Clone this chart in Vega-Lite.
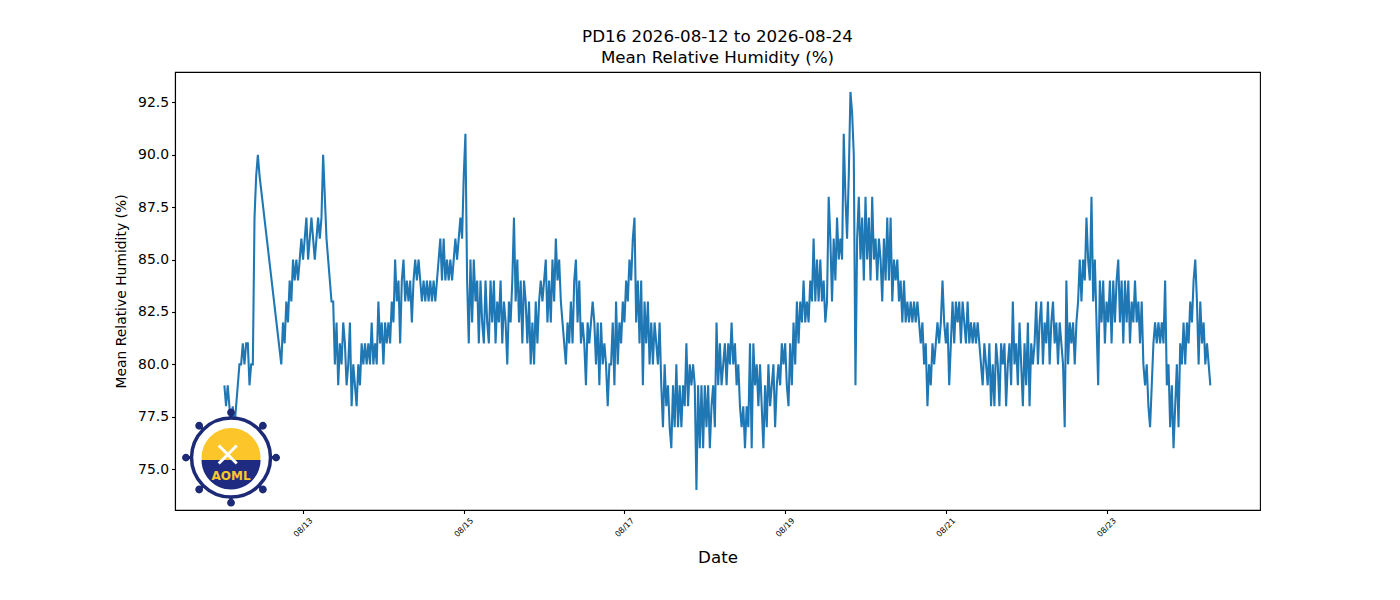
{
"$schema":"https://vega.github.io/schema/vega-lite/v6.json",
"width":1085,"height":438,
"autosize":{"type":"none"},
"padding":{"left":175,"top":72,"right":140,"bottom":90},
"background":"white",
"title":{"text":["PD16 2026-08-12 to 2026-08-24","Mean Relative Humidity (%)"],"fontSize":16.7,"font":"DejaVu Sans","fontWeight":"normal","color":"black","lineHeight":21,"offset":5,"anchor":"middle"},
"config":{"font":"DejaVu Sans","view":{"stroke":"black","strokeWidth":1.1},"axis":{"grid":false,"domainColor":"black","tickColor":"black","labelColor":"black","titleColor":"black","tickSize":3.5,"domainWidth":1.1,"tickWidth":1.1}},
"datasets":{"rh":[
{"t":"2026-08-12T00:30","v":79},{"t":"2026-08-12T01:00","v":78},{"t":"2026-08-12T01:30","v":79},{"t":"2026-08-12T02:00","v":78},{"t":"2026-08-12T02:30","v":77},{"t":"2026-08-12T03:00","v":78},{"t":"2026-08-12T03:30","v":77},{"t":"2026-08-12T04:00","v":78},{"t":"2026-08-12T04:30","v":79},{"t":"2026-08-12T05:00","v":80},{"t":"2026-08-12T05:30","v":80},{"t":"2026-08-12T06:00","v":81},{"t":"2026-08-12T06:30","v":80},{"t":"2026-08-12T07:00","v":81},{"t":"2026-08-12T07:30","v":81},{"t":"2026-08-12T08:00","v":79},{"t":"2026-08-12T08:30","v":80},{"t":"2026-08-12T09:00","v":80},{"t":"2026-08-12T09:30","v":87},{"t":"2026-08-12T10:00","v":89},{"t":"2026-08-12T10:30","v":90},{"t":"2026-08-12T11:00","v":89},{"t":"2026-08-12T17:30","v":80},{"t":"2026-08-12T18:00","v":82},{"t":"2026-08-12T18:30","v":81},{"t":"2026-08-12T19:00","v":83},{"t":"2026-08-12T19:30","v":82},{"t":"2026-08-12T20:00","v":84},{"t":"2026-08-12T20:30","v":83},{"t":"2026-08-12T21:00","v":85},{"t":"2026-08-12T21:30","v":84},{"t":"2026-08-12T22:00","v":85},{"t":"2026-08-12T22:30","v":84},{"t":"2026-08-12T23:00","v":85},{"t":"2026-08-12T23:30","v":86},
{"t":"2026-08-13T00:00","v":85},{"t":"2026-08-13T00:30","v":86},{"t":"2026-08-13T01:00","v":87},{"t":"2026-08-13T01:30","v":85},{"t":"2026-08-13T02:00","v":86},{"t":"2026-08-13T02:30","v":87},{"t":"2026-08-13T03:00","v":86},{"t":"2026-08-13T03:30","v":85},{"t":"2026-08-13T04:00","v":86},{"t":"2026-08-13T04:30","v":87},{"t":"2026-08-13T05:00","v":86},{"t":"2026-08-13T05:30","v":87},{"t":"2026-08-13T06:00","v":90},{"t":"2026-08-13T06:30","v":88},{"t":"2026-08-13T07:00","v":86},{"t":"2026-08-13T07:30","v":85},{"t":"2026-08-13T08:00","v":84},{"t":"2026-08-13T08:30","v":83},{"t":"2026-08-13T09:00","v":83},{"t":"2026-08-13T09:30","v":80},{"t":"2026-08-13T10:00","v":82},{"t":"2026-08-13T10:30","v":79},{"t":"2026-08-13T11:00","v":81},{"t":"2026-08-13T11:30","v":80},{"t":"2026-08-13T12:00","v":82},{"t":"2026-08-13T12:30","v":81},{"t":"2026-08-13T13:00","v":79},{"t":"2026-08-13T13:30","v":80},{"t":"2026-08-13T14:00","v":82},{"t":"2026-08-13T14:30","v":78},{"t":"2026-08-13T15:00","v":80},{"t":"2026-08-13T15:30","v":79},{"t":"2026-08-13T16:00","v":78},{"t":"2026-08-13T16:30","v":80},{"t":"2026-08-13T17:00","v":79},{"t":"2026-08-13T17:30","v":81},{"t":"2026-08-13T18:00","v":80},{"t":"2026-08-13T18:30","v":81},{"t":"2026-08-13T19:00","v":80},{"t":"2026-08-13T19:30","v":81},{"t":"2026-08-13T20:00","v":80},{"t":"2026-08-13T20:30","v":82},{"t":"2026-08-13T21:00","v":80},{"t":"2026-08-13T21:30","v":81},{"t":"2026-08-13T22:00","v":80},{"t":"2026-08-13T22:30","v":83},{"t":"2026-08-13T23:00","v":81},{"t":"2026-08-13T23:30","v":82},
{"t":"2026-08-14T00:00","v":80},{"t":"2026-08-14T00:30","v":82},{"t":"2026-08-14T01:00","v":81},{"t":"2026-08-14T01:30","v":82},{"t":"2026-08-14T02:00","v":81},{"t":"2026-08-14T02:30","v":83},{"t":"2026-08-14T03:00","v":82},{"t":"2026-08-14T03:30","v":85},{"t":"2026-08-14T04:00","v":83},{"t":"2026-08-14T04:30","v":84},{"t":"2026-08-14T05:00","v":81},{"t":"2026-08-14T05:30","v":84},{"t":"2026-08-14T06:00","v":85},{"t":"2026-08-14T06:30","v":83},{"t":"2026-08-14T07:00","v":84},{"t":"2026-08-14T07:30","v":83},{"t":"2026-08-14T08:00","v":84},{"t":"2026-08-14T08:30","v":82},{"t":"2026-08-14T09:00","v":84},{"t":"2026-08-14T09:30","v":85},{"t":"2026-08-14T10:00","v":84},{"t":"2026-08-14T10:30","v":85},{"t":"2026-08-14T11:00","v":84},{"t":"2026-08-14T11:30","v":83},{"t":"2026-08-14T12:00","v":84},{"t":"2026-08-14T12:30","v":83},{"t":"2026-08-14T13:00","v":84},{"t":"2026-08-14T13:30","v":83},{"t":"2026-08-14T14:00","v":84},{"t":"2026-08-14T14:30","v":83},{"t":"2026-08-14T15:00","v":84},{"t":"2026-08-14T15:30","v":83},{"t":"2026-08-14T16:00","v":84},{"t":"2026-08-14T16:30","v":85},{"t":"2026-08-14T17:00","v":86},{"t":"2026-08-14T17:30","v":84},{"t":"2026-08-14T18:00","v":86},{"t":"2026-08-14T18:30","v":84},{"t":"2026-08-14T19:00","v":85},{"t":"2026-08-14T19:30","v":84},{"t":"2026-08-14T20:00","v":85},{"t":"2026-08-14T20:30","v":84},{"t":"2026-08-14T21:00","v":85},{"t":"2026-08-14T21:30","v":86},{"t":"2026-08-14T22:00","v":85},{"t":"2026-08-14T22:30","v":86},{"t":"2026-08-14T23:00","v":87},{"t":"2026-08-14T23:30","v":86},
{"t":"2026-08-15T00:00","v":89},{"t":"2026-08-15T00:30","v":91},{"t":"2026-08-15T01:00","v":84},{"t":"2026-08-15T01:30","v":81},{"t":"2026-08-15T02:00","v":85},{"t":"2026-08-15T02:30","v":82},{"t":"2026-08-15T03:00","v":85},{"t":"2026-08-15T03:30","v":83},{"t":"2026-08-15T04:00","v":84},{"t":"2026-08-15T04:30","v":81},{"t":"2026-08-15T05:00","v":84},{"t":"2026-08-15T05:30","v":82},{"t":"2026-08-15T06:00","v":81},{"t":"2026-08-15T06:30","v":84},{"t":"2026-08-15T07:00","v":82},{"t":"2026-08-15T07:30","v":81},{"t":"2026-08-15T08:00","v":84},{"t":"2026-08-15T08:30","v":82},{"t":"2026-08-15T09:00","v":84},{"t":"2026-08-15T09:30","v":81},{"t":"2026-08-15T10:00","v":83},{"t":"2026-08-15T10:30","v":82},{"t":"2026-08-15T11:00","v":84},{"t":"2026-08-15T11:30","v":81},{"t":"2026-08-15T12:00","v":83},{"t":"2026-08-15T12:30","v":82},{"t":"2026-08-15T13:00","v":80},{"t":"2026-08-15T13:30","v":83},{"t":"2026-08-15T14:00","v":82},{"t":"2026-08-15T14:30","v":84},{"t":"2026-08-15T15:00","v":87},{"t":"2026-08-15T15:30","v":83},{"t":"2026-08-15T16:00","v":85},{"t":"2026-08-15T16:30","v":82},{"t":"2026-08-15T17:00","v":84},{"t":"2026-08-15T17:30","v":81},{"t":"2026-08-15T18:00","v":84},{"t":"2026-08-15T18:30","v":83},{"t":"2026-08-15T19:00","v":81},{"t":"2026-08-15T19:30","v":83},{"t":"2026-08-15T20:00","v":80},{"t":"2026-08-15T20:30","v":82},{"t":"2026-08-15T21:00","v":80},{"t":"2026-08-15T21:30","v":83},{"t":"2026-08-15T22:00","v":81},{"t":"2026-08-15T22:30","v":83},{"t":"2026-08-15T23:00","v":84},{"t":"2026-08-15T23:30","v":83},
{"t":"2026-08-16T00:00","v":84},{"t":"2026-08-16T00:30","v":85},{"t":"2026-08-16T01:00","v":82},{"t":"2026-08-16T01:30","v":84},{"t":"2026-08-16T02:00","v":82},{"t":"2026-08-16T02:30","v":85},{"t":"2026-08-16T03:00","v":83},{"t":"2026-08-16T03:30","v":86},{"t":"2026-08-16T04:00","v":84},{"t":"2026-08-16T04:30","v":85},{"t":"2026-08-16T05:00","v":83},{"t":"2026-08-16T05:30","v":82},{"t":"2026-08-16T06:00","v":81},{"t":"2026-08-16T06:30","v":80},{"t":"2026-08-16T07:00","v":82},{"t":"2026-08-16T07:30","v":81},{"t":"2026-08-16T08:00","v":83},{"t":"2026-08-16T08:30","v":81},{"t":"2026-08-16T09:00","v":84},{"t":"2026-08-16T09:30","v":85},{"t":"2026-08-16T10:00","v":82},{"t":"2026-08-16T10:30","v":84},{"t":"2026-08-16T11:00","v":81},{"t":"2026-08-16T11:30","v":82},{"t":"2026-08-16T12:00","v":81},{"t":"2026-08-16T12:30","v":79},{"t":"2026-08-16T13:00","v":82},{"t":"2026-08-16T13:30","v":81},{"t":"2026-08-16T14:00","v":82},{"t":"2026-08-16T14:30","v":83},{"t":"2026-08-16T15:00","v":82},{"t":"2026-08-16T15:30","v":80},{"t":"2026-08-16T16:00","v":82},{"t":"2026-08-16T16:30","v":79},{"t":"2026-08-16T17:00","v":82},{"t":"2026-08-16T17:30","v":80},{"t":"2026-08-16T18:00","v":81},{"t":"2026-08-16T18:30","v":80},{"t":"2026-08-16T19:00","v":78},{"t":"2026-08-16T19:30","v":80},{"t":"2026-08-16T20:00","v":80},{"t":"2026-08-16T20:30","v":82},{"t":"2026-08-16T21:00","v":79},{"t":"2026-08-16T21:30","v":83},{"t":"2026-08-16T22:00","v":80},{"t":"2026-08-16T22:30","v":82},{"t":"2026-08-16T23:00","v":81},{"t":"2026-08-16T23:30","v":83},
{"t":"2026-08-17T00:00","v":82},{"t":"2026-08-17T00:30","v":84},{"t":"2026-08-17T01:00","v":83},{"t":"2026-08-17T01:30","v":85},{"t":"2026-08-17T02:00","v":84},{"t":"2026-08-17T02:30","v":86},{"t":"2026-08-17T03:00","v":87},{"t":"2026-08-17T03:30","v":82},{"t":"2026-08-17T04:00","v":84},{"t":"2026-08-17T04:30","v":81},{"t":"2026-08-17T05:00","v":84},{"t":"2026-08-17T05:30","v":79},{"t":"2026-08-17T06:00","v":83},{"t":"2026-08-17T06:30","v":81},{"t":"2026-08-17T07:00","v":83},{"t":"2026-08-17T07:30","v":80},{"t":"2026-08-17T08:00","v":82},{"t":"2026-08-17T08:30","v":80},{"t":"2026-08-17T09:00","v":82},{"t":"2026-08-17T09:30","v":81},{"t":"2026-08-17T10:00","v":80},{"t":"2026-08-17T10:30","v":82},{"t":"2026-08-17T11:00","v":79},{"t":"2026-08-17T11:30","v":77},{"t":"2026-08-17T12:00","v":80},{"t":"2026-08-17T12:30","v":78},{"t":"2026-08-17T13:00","v":79},{"t":"2026-08-17T13:30","v":77},{"t":"2026-08-17T14:00","v":76},{"t":"2026-08-17T14:30","v":79},{"t":"2026-08-17T15:00","v":77},{"t":"2026-08-17T15:30","v":80},{"t":"2026-08-17T16:00","v":77},{"t":"2026-08-17T16:30","v":79},{"t":"2026-08-17T17:00","v":77},{"t":"2026-08-17T17:30","v":79},{"t":"2026-08-17T18:00","v":78},{"t":"2026-08-17T18:30","v":81},{"t":"2026-08-17T19:00","v":78},{"t":"2026-08-17T19:30","v":80},{"t":"2026-08-17T20:00","v":79},{"t":"2026-08-17T20:30","v":80},{"t":"2026-08-17T21:00","v":79},{"t":"2026-08-17T21:30","v":74},{"t":"2026-08-17T22:00","v":79},{"t":"2026-08-17T22:30","v":76},{"t":"2026-08-17T23:00","v":79},{"t":"2026-08-17T23:30","v":76},
{"t":"2026-08-18T00:00","v":79},{"t":"2026-08-18T00:30","v":77},{"t":"2026-08-18T01:00","v":79},{"t":"2026-08-18T01:30","v":76},{"t":"2026-08-18T02:00","v":78},{"t":"2026-08-18T02:30","v":79},{"t":"2026-08-18T03:00","v":77},{"t":"2026-08-18T03:30","v":82},{"t":"2026-08-18T04:00","v":79},{"t":"2026-08-18T04:30","v":81},{"t":"2026-08-18T05:00","v":79},{"t":"2026-08-18T05:30","v":80},{"t":"2026-08-18T06:00","v":81},{"t":"2026-08-18T06:30","v":79},{"t":"2026-08-18T07:00","v":81},{"t":"2026-08-18T07:30","v":80},{"t":"2026-08-18T08:00","v":82},{"t":"2026-08-18T08:30","v":80},{"t":"2026-08-18T09:00","v":81},{"t":"2026-08-18T09:30","v":79},{"t":"2026-08-18T10:00","v":80},{"t":"2026-08-18T10:30","v":78},{"t":"2026-08-18T11:00","v":77},{"t":"2026-08-18T11:30","v":78},{"t":"2026-08-18T12:00","v":76},{"t":"2026-08-18T12:30","v":78},{"t":"2026-08-18T13:00","v":77},{"t":"2026-08-18T13:30","v":81},{"t":"2026-08-18T14:00","v":76},{"t":"2026-08-18T14:30","v":81},{"t":"2026-08-18T15:00","v":79},{"t":"2026-08-18T15:30","v":80},{"t":"2026-08-18T16:00","v":78},{"t":"2026-08-18T16:30","v":80},{"t":"2026-08-18T17:00","v":78},{"t":"2026-08-18T17:30","v":76},{"t":"2026-08-18T18:00","v":79},{"t":"2026-08-18T18:30","v":77},{"t":"2026-08-18T19:00","v":80},{"t":"2026-08-18T19:30","v":78},{"t":"2026-08-18T20:00","v":79},{"t":"2026-08-18T20:30","v":80},{"t":"2026-08-18T21:00","v":77},{"t":"2026-08-18T21:30","v":79},{"t":"2026-08-18T22:00","v":80},{"t":"2026-08-18T22:30","v":79},{"t":"2026-08-18T23:00","v":81},{"t":"2026-08-18T23:30","v":80},
{"t":"2026-08-19T00:00","v":81},{"t":"2026-08-19T00:30","v":79},{"t":"2026-08-19T01:00","v":78},{"t":"2026-08-19T01:30","v":81},{"t":"2026-08-19T02:00","v":79},{"t":"2026-08-19T02:30","v":82},{"t":"2026-08-19T03:00","v":80},{"t":"2026-08-19T03:30","v":83},{"t":"2026-08-19T04:00","v":81},{"t":"2026-08-19T04:30","v":83},{"t":"2026-08-19T05:00","v":82},{"t":"2026-08-19T05:30","v":84},{"t":"2026-08-19T06:00","v":82},{"t":"2026-08-19T06:30","v":83},{"t":"2026-08-19T07:00","v":82},{"t":"2026-08-19T07:30","v":84},{"t":"2026-08-19T08:00","v":83},{"t":"2026-08-19T08:30","v":86},{"t":"2026-08-19T09:00","v":83},{"t":"2026-08-19T09:30","v":85},{"t":"2026-08-19T10:00","v":83},{"t":"2026-08-19T10:30","v":85},{"t":"2026-08-19T11:00","v":83},{"t":"2026-08-19T11:30","v":84},{"t":"2026-08-19T12:00","v":82},{"t":"2026-08-19T12:30","v":83},{"t":"2026-08-19T13:00","v":88},{"t":"2026-08-19T13:30","v":86},{"t":"2026-08-19T14:00","v":83},{"t":"2026-08-19T14:30","v":86},{"t":"2026-08-19T15:00","v":84},{"t":"2026-08-19T15:30","v":87},{"t":"2026-08-19T16:00","v":85},{"t":"2026-08-19T16:30","v":86},{"t":"2026-08-19T17:00","v":85},{"t":"2026-08-19T17:30","v":91},{"t":"2026-08-19T18:00","v":88},{"t":"2026-08-19T18:30","v":86},{"t":"2026-08-19T19:00","v":89},{"t":"2026-08-19T19:30","v":93},{"t":"2026-08-19T20:00","v":92},{"t":"2026-08-19T20:30","v":90},{"t":"2026-08-19T21:00","v":79},{"t":"2026-08-19T21:30","v":86},{"t":"2026-08-19T22:00","v":88},{"t":"2026-08-19T22:30","v":85},{"t":"2026-08-19T23:00","v":87},{"t":"2026-08-19T23:30","v":84},
{"t":"2026-08-20T00:00","v":88},{"t":"2026-08-20T00:30","v":85},{"t":"2026-08-20T01:00","v":87},{"t":"2026-08-20T01:30","v":84},{"t":"2026-08-20T02:00","v":88},{"t":"2026-08-20T02:30","v":85},{"t":"2026-08-20T03:00","v":86},{"t":"2026-08-20T03:30","v":84},{"t":"2026-08-20T04:00","v":86},{"t":"2026-08-20T04:30","v":85},{"t":"2026-08-20T05:00","v":83},{"t":"2026-08-20T05:30","v":86},{"t":"2026-08-20T06:00","v":84},{"t":"2026-08-20T06:30","v":87},{"t":"2026-08-20T07:00","v":84},{"t":"2026-08-20T07:30","v":87},{"t":"2026-08-20T08:00","v":83},{"t":"2026-08-20T08:30","v":85},{"t":"2026-08-20T09:00","v":84},{"t":"2026-08-20T09:30","v":85},{"t":"2026-08-20T10:00","v":83},{"t":"2026-08-20T10:30","v":84},{"t":"2026-08-20T11:00","v":82},{"t":"2026-08-20T11:30","v":84},{"t":"2026-08-20T12:00","v":82},{"t":"2026-08-20T12:30","v":83},{"t":"2026-08-20T13:00","v":82},{"t":"2026-08-20T13:30","v":83},{"t":"2026-08-20T14:00","v":82},{"t":"2026-08-20T14:30","v":83},{"t":"2026-08-20T15:00","v":82},{"t":"2026-08-20T15:30","v":83},{"t":"2026-08-20T16:00","v":82},{"t":"2026-08-20T16:30","v":81},{"t":"2026-08-20T17:00","v":82},{"t":"2026-08-20T17:30","v":80},{"t":"2026-08-20T18:00","v":81},{"t":"2026-08-20T18:30","v":78},{"t":"2026-08-20T19:00","v":80},{"t":"2026-08-20T19:30","v":79},{"t":"2026-08-20T20:00","v":81},{"t":"2026-08-20T20:30","v":80},{"t":"2026-08-20T21:00","v":81},{"t":"2026-08-20T21:30","v":82},{"t":"2026-08-20T22:00","v":81},{"t":"2026-08-20T22:30","v":82},{"t":"2026-08-20T23:00","v":84},{"t":"2026-08-20T23:30","v":82},
{"t":"2026-08-21T00:00","v":81},{"t":"2026-08-21T00:30","v":82},{"t":"2026-08-21T01:00","v":79},{"t":"2026-08-21T01:30","v":81},{"t":"2026-08-21T02:00","v":83},{"t":"2026-08-21T02:30","v":81},{"t":"2026-08-21T03:00","v":83},{"t":"2026-08-21T03:30","v":82},{"t":"2026-08-21T04:00","v":83},{"t":"2026-08-21T04:30","v":81},{"t":"2026-08-21T05:00","v":83},{"t":"2026-08-21T05:30","v":82},{"t":"2026-08-21T06:00","v":81},{"t":"2026-08-21T06:30","v":83},{"t":"2026-08-21T07:00","v":81},{"t":"2026-08-21T07:30","v":82},{"t":"2026-08-21T08:00","v":81},{"t":"2026-08-21T08:30","v":82},{"t":"2026-08-21T09:00","v":81},{"t":"2026-08-21T09:30","v":82},{"t":"2026-08-21T10:00","v":81},{"t":"2026-08-21T10:30","v":80},{"t":"2026-08-21T11:00","v":79},{"t":"2026-08-21T11:30","v":81},{"t":"2026-08-21T12:00","v":80},{"t":"2026-08-21T12:30","v":79},{"t":"2026-08-21T13:00","v":81},{"t":"2026-08-21T13:30","v":78},{"t":"2026-08-21T14:00","v":80},{"t":"2026-08-21T14:30","v":78},{"t":"2026-08-21T15:00","v":81},{"t":"2026-08-21T15:30","v":80},{"t":"2026-08-21T16:00","v":78},{"t":"2026-08-21T16:30","v":81},{"t":"2026-08-21T17:00","v":80},{"t":"2026-08-21T17:30","v":81},{"t":"2026-08-21T18:00","v":78},{"t":"2026-08-21T18:30","v":80},{"t":"2026-08-21T19:00","v":81},{"t":"2026-08-21T19:30","v":79},{"t":"2026-08-21T20:00","v":83},{"t":"2026-08-21T20:30","v":80},{"t":"2026-08-21T21:00","v":81},{"t":"2026-08-21T21:30","v":79},{"t":"2026-08-21T22:00","v":82},{"t":"2026-08-21T22:30","v":80},{"t":"2026-08-21T23:00","v":78},{"t":"2026-08-21T23:30","v":81},
{"t":"2026-08-22T00:00","v":79},{"t":"2026-08-22T00:30","v":82},{"t":"2026-08-22T01:00","v":78},{"t":"2026-08-22T01:30","v":81},{"t":"2026-08-22T02:00","v":80},{"t":"2026-08-22T02:30","v":81},{"t":"2026-08-22T03:00","v":83},{"t":"2026-08-22T03:30","v":80},{"t":"2026-08-22T04:00","v":82},{"t":"2026-08-22T04:30","v":83},{"t":"2026-08-22T05:00","v":80},{"t":"2026-08-22T05:30","v":82},{"t":"2026-08-22T06:00","v":81},{"t":"2026-08-22T06:30","v":83},{"t":"2026-08-22T07:00","v":80},{"t":"2026-08-22T07:30","v":82},{"t":"2026-08-22T08:00","v":83},{"t":"2026-08-22T08:30","v":81},{"t":"2026-08-22T09:00","v":82},{"t":"2026-08-22T09:30","v":80},{"t":"2026-08-22T10:00","v":82},{"t":"2026-08-22T10:30","v":81},{"t":"2026-08-22T11:00","v":80},{"t":"2026-08-22T11:30","v":77},{"t":"2026-08-22T12:00","v":84},{"t":"2026-08-22T12:30","v":80},{"t":"2026-08-22T13:00","v":82},{"t":"2026-08-22T13:30","v":81},{"t":"2026-08-22T14:00","v":82},{"t":"2026-08-22T14:30","v":80},{"t":"2026-08-22T15:00","v":82},{"t":"2026-08-22T15:30","v":83},{"t":"2026-08-22T16:00","v":85},{"t":"2026-08-22T16:30","v":83},{"t":"2026-08-22T17:00","v":85},{"t":"2026-08-22T17:30","v":84},{"t":"2026-08-22T18:00","v":87},{"t":"2026-08-22T18:30","v":85},{"t":"2026-08-22T19:00","v":84},{"t":"2026-08-22T19:30","v":88},{"t":"2026-08-22T20:00","v":83},{"t":"2026-08-22T20:30","v":85},{"t":"2026-08-22T21:00","v":82},{"t":"2026-08-22T21:30","v":79},{"t":"2026-08-22T22:00","v":84},{"t":"2026-08-22T22:30","v":82},{"t":"2026-08-22T23:00","v":84},{"t":"2026-08-22T23:30","v":81},
{"t":"2026-08-23T00:00","v":83},{"t":"2026-08-23T00:30","v":82},{"t":"2026-08-23T01:00","v":84},{"t":"2026-08-23T01:30","v":81},{"t":"2026-08-23T02:00","v":84},{"t":"2026-08-23T02:30","v":82},{"t":"2026-08-23T03:00","v":84},{"t":"2026-08-23T03:30","v":85},{"t":"2026-08-23T04:00","v":82},{"t":"2026-08-23T04:30","v":84},{"t":"2026-08-23T05:00","v":81},{"t":"2026-08-23T05:30","v":84},{"t":"2026-08-23T06:00","v":82},{"t":"2026-08-23T06:30","v":84},{"t":"2026-08-23T07:00","v":81},{"t":"2026-08-23T07:30","v":83},{"t":"2026-08-23T08:00","v":82},{"t":"2026-08-23T08:30","v":84},{"t":"2026-08-23T09:00","v":82},{"t":"2026-08-23T09:30","v":83},{"t":"2026-08-23T10:00","v":81},{"t":"2026-08-23T10:30","v":83},{"t":"2026-08-23T11:00","v":80},{"t":"2026-08-23T11:30","v":79},{"t":"2026-08-23T12:00","v":80},{"t":"2026-08-23T12:30","v":78},{"t":"2026-08-23T13:00","v":77},{"t":"2026-08-23T13:30","v":79},{"t":"2026-08-23T14:00","v":81},{"t":"2026-08-23T14:30","v":82},{"t":"2026-08-23T15:00","v":81},{"t":"2026-08-23T15:30","v":82},{"t":"2026-08-23T16:00","v":81},{"t":"2026-08-23T16:30","v":82},{"t":"2026-08-23T17:00","v":81},{"t":"2026-08-23T17:30","v":84},{"t":"2026-08-23T18:00","v":79},{"t":"2026-08-23T18:30","v":80},{"t":"2026-08-23T19:00","v":77},{"t":"2026-08-23T19:30","v":79},{"t":"2026-08-23T20:00","v":76},{"t":"2026-08-23T20:30","v":78},{"t":"2026-08-23T21:00","v":80},{"t":"2026-08-23T21:30","v":77},{"t":"2026-08-23T22:00","v":81},{"t":"2026-08-23T22:30","v":80},{"t":"2026-08-23T23:00","v":82},{"t":"2026-08-23T23:30","v":80},
{"t":"2026-08-24T00:00","v":82},{"t":"2026-08-24T00:30","v":81},{"t":"2026-08-24T01:00","v":83},{"t":"2026-08-24T01:30","v":82},{"t":"2026-08-24T02:00","v":84},{"t":"2026-08-24T02:30","v":85},{"t":"2026-08-24T03:00","v":83},{"t":"2026-08-24T03:30","v":80},{"t":"2026-08-24T04:00","v":83},{"t":"2026-08-24T04:30","v":81},{"t":"2026-08-24T05:00","v":82},{"t":"2026-08-24T05:30","v":80},{"t":"2026-08-24T06:00","v":81},{"t":"2026-08-24T06:30","v":80},{"t":"2026-08-24T07:00","v":79}
],
"logo":[{"name":"AOML"}]},
"layer":[
{"data":{"name":"rh"},"mark":{"type":"line","color":"#1f77b4","strokeWidth":2.08,"clip":true},
"encoding":{
"x":{"field":"t","type":"temporal","scale":{"domain":[{"year":2026,"month":8,"date":11,"hours":9,"minutes":45},{"year":2026,"month":8,"date":24,"hours":21,"minutes":50}],"nice":false},
"axis":{"values":[{"year":2026,"month":8,"date":13},{"year":2026,"month":8,"date":15},{"year":2026,"month":8,"date":17},{"year":2026,"month":8,"date":19},{"year":2026,"month":8,"date":21},{"year":2026,"month":8,"date":23}],"format":"%m/%d","labelAngle":-45,"labelAlign":"center","labelBaseline":"middle","labelFontSize":8,"labelPadding":14,"labelOverlap":false,"labelFlush":false,"title":"Date","titleFontSize":16.7,"titleFontWeight":"normal","titleY":47,"titleBaseline":"middle"}},
"y":{"field":"v","type":"quantitative","scale":{"domain":[73.05,93.95],"nice":false,"zero":false},
"axis":{"values":[75,77.5,80,82.5,85,87.5,90,92.5],"format":".1f","labelFontSize":13.9,"labelPadding":3,"title":"Mean Relative Humidity (%)","titleFontSize":13.9,"titleFontWeight":"normal","titleX":-54,"titleY":219,"titleBaseline":"middle","titleAlign":"center"}}
}},
{"data":{"name":"logo"},"mark":{"type":"point","shape":"M -0.9 0 L 0.9 0 M 0 -0.9 L 0 0.9 M -0.64 -0.64 L 0.64 0.64 M -0.64 0.64 L 0.64 -0.64","size":9604,"filled":false,"stroke":"#1d2a75","strokeWidth":3,"opacity":1},
"encoding":{"x":{"datum":{"year":2026,"month":8,"date":12,"hours":2,"minutes":29},"type":"temporal"},"y":{"datum":75.55,"type":"quantitative"}}},
{"data":{"name":"logo"},"mark":{"type":"point","shape":"M 0.84 0 a 0.08 0.08 0 1 0 0.16 0 a 0.08 0.08 0 1 0 -0.16 0 M -1 0 a 0.08 0.08 0 1 0 0.16 0 a 0.08 0.08 0 1 0 -0.16 0 M -0.08 0.92 a 0.08 0.08 0 1 0 0.16 0 a 0.08 0.08 0 1 0 -0.16 0 M -0.08 -0.92 a 0.08 0.08 0 1 0 0.16 0 a 0.08 0.08 0 1 0 -0.16 0 M 0.57 0.65 a 0.08 0.08 0 1 0 0.16 0 a 0.08 0.08 0 1 0 -0.16 0 M -0.73 0.65 a 0.08 0.08 0 1 0 0.16 0 a 0.08 0.08 0 1 0 -0.16 0 M 0.57 -0.65 a 0.08 0.08 0 1 0 0.16 0 a 0.08 0.08 0 1 0 -0.16 0 M -0.73 -0.65 a 0.08 0.08 0 1 0 0.16 0 a 0.08 0.08 0 1 0 -0.16 0","size":9604,"filled":true,"fill":"#1d2a75","strokeWidth":0,"opacity":1},
"encoding":{"x":{"datum":{"year":2026,"month":8,"date":12,"hours":2,"minutes":29},"type":"temporal"},"y":{"datum":75.55,"type":"quantitative"}}},
{"data":{"name":"logo"},"mark":{"type":"point","shape":"circle","size":6241,"filled":true,"fill":"white","stroke":"#1d2a75","strokeWidth":3.5,"opacity":1},
"encoding":{"x":{"datum":{"year":2026,"month":8,"date":12,"hours":2,"minutes":29},"type":"temporal"},"y":{"datum":75.55,"type":"quantitative"}}},
{"data":{"name":"logo"},"mark":{"type":"point","shape":"circle","size":3481,"filled":true,"fill":"#fcc62a","strokeWidth":0,"opacity":1},
"encoding":{"x":{"datum":{"year":2026,"month":8,"date":12,"hours":2,"minutes":29},"type":"temporal"},"y":{"datum":75.55,"type":"quantitative"}}},
{"data":{"name":"logo"},"mark":{"type":"point","shape":"M -1 0 A 1 1 0 0 0 1 0 Z","size":3481,"filled":true,"fill":"#1f2b80","strokeWidth":0,"opacity":1},
"encoding":{"x":{"datum":{"year":2026,"month":8,"date":12,"hours":2,"minutes":29},"type":"temporal"},"y":{"datum":75.43,"type":"quantitative"}}},
{"data":{"name":"logo"},"mark":{"type":"point","shape":"M -0.6 -0.6 L 0.6 0.6 M 0.6 -0.6 L -0.6 0.6","size":900,"filled":false,"stroke":"white","strokeWidth":3,"opacity":1},
"encoding":{"x":{"datum":{"year":2026,"month":8,"date":12,"hours":1,"minutes":30},"type":"temporal"},"y":{"datum":75.7,"type":"quantitative"}}},
{"data":{"name":"logo"},"mark":{"type":"text","fontSize":12,"fontWeight":"bold","font":"DejaVu Sans","color":"#fcc62a","baseline":"middle","align":"center"},
"encoding":{"text":{"field":"name"},"x":{"datum":{"year":2026,"month":8,"date":12,"hours":2,"minutes":29},"type":"temporal"},"y":{"datum":74.67,"type":"quantitative"}}}
]
}
